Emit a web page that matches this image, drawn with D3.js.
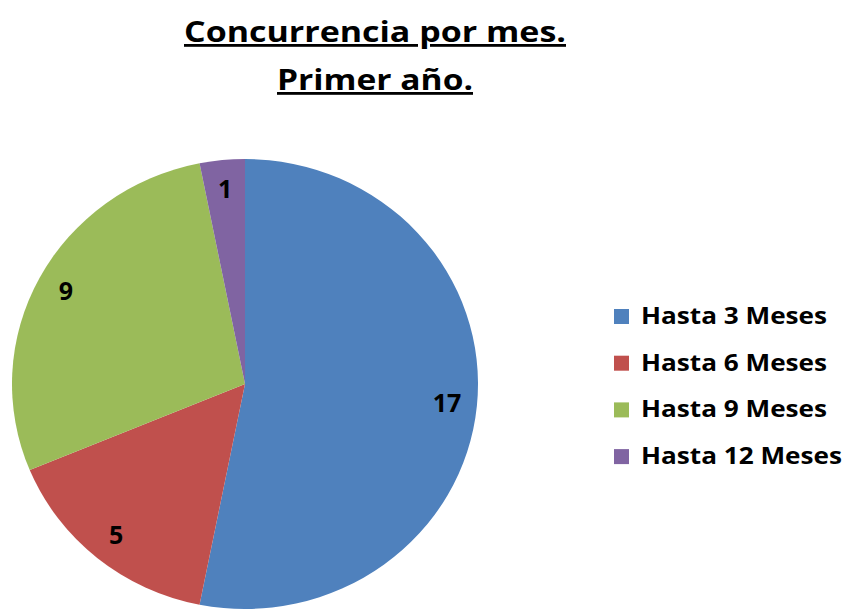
<!DOCTYPE html>
<style>
body {
  margin: 0;
  background: #fff;
  font-family: 'Open Sans', sans-serif;
}
</style>
<svg width="845" height="609"></svg>
<script src="https://d3js.org/d3.v7.min.js"></script>
<script>
// data
var categories = ["Hasta 3 Meses", "Hasta 6 Meses", "Hasta 9 Meses", "Hasta 12 Meses"];
var values = [17, 5, 9, 1];
var colors = ["#4F81BD", "#C0504D", "#9BBB59", "#8064A2"];
var titleLines = ["Concurrencia por mes.", "Primer año."];

var svg = d3.select("svg");

// title
var title = svg.append("g")
    .attr("font-weight", "bold")
    .attr("font-size", 28)
    .attr("text-anchor", "middle");

title.selectAll("text")
  .data(titleLines)
  .enter().append("text")
    .attr("x", 375)
    .attr("y", function(d, i) { return 42 + i * 48; })
    .attr("text-decoration", "underline")
    .attr("textLength", function(d, i) { return i == 0 ? 382 : 196; })
    .attr("lengthAdjust", "spacingAndGlyphs")
    .text(function(d) { return d; });

// pie (slightly squashed vertically, like the original)
var cx = 245, cy = 384, rx = 233, ry = 225;

var pie = d3.pie().sort(null).value(function(d) { return d; });
var arcs = pie(values);
var arc = d3.arc().innerRadius(0).outerRadius(rx);
var labelArc = d3.arc().innerRadius(203).outerRadius(203);

var pie_g = svg.append("g")
    .attr("transform", "translate(" + cx + "," + cy + ") scale(1," + (ry / rx) + ")");

pie_g.selectAll("path")
  .data(arcs)
  .enter().append("path")
    .attr("d", arc)
    .attr("fill", function(d, i) { return colors[i]; });

svg.append("g")
    .attr("font-weight", "bold")
    .attr("font-size", 25)
    .attr("text-anchor", "middle")
  .selectAll("text")
  .data(arcs)
  .enter().append("text")
    .attr("x", function(d) { return cx + labelArc.centroid(d)[0]; })
    .attr("y", function(d) { return cy + labelArc.centroid(d)[1] * ry / rx; })
    .attr("dy", "0.35em")
    .attr("fill", "#000")
    .text(function(d) { return d.data; });

// legend
var legend = svg.append("g")
    .attr("font-weight", "bold")
    .attr("font-size", 23)
  .selectAll("g")
  .data(categories)
  .enter().append("g")
    .attr("transform", function(d, i) { return "translate(614," + (316 + i * 46.7) + ")"; });

legend.append("rect")
    .attr("y", -7)
    .attr("width", 15)
    .attr("height", 15)
    .attr("fill", function(d, i) { return colors[i]; });

var legendText = legend.append("text")
    .attr("x", 27)
    .attr("dy", "0.35em")
    .attr("fill", "#000")
    .text(function(d) { return d; });

// stretch legend text so the longest entry is as wide as in the original
var widest = d3.max(legendText.nodes(), function(n) { return n.getComputedTextLength(); });
var stretch = 201 / widest;
legendText
    .attr("textLength", function() { return this.getComputedTextLength() * stretch; })
    .attr("lengthAdjust", "spacingAndGlyphs");
</script>
